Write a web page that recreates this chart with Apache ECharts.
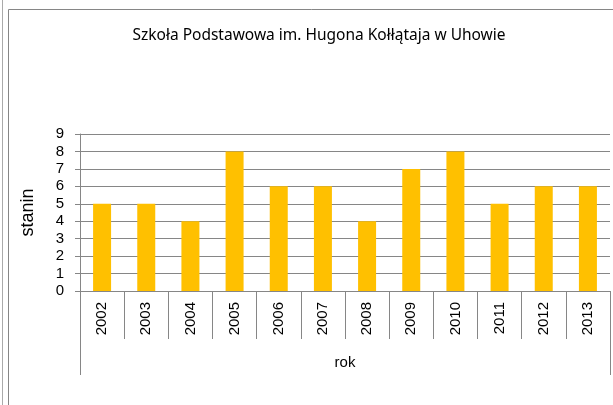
<!DOCTYPE html>
<html lang="pl">
<head>
    <meta charset="UTF-8">
    <title>Szkoła Podstawowa im. Hugona Kołłątaja w Uhowie</title>
    <script src="https://cdn.jsdelivr.net/npm/echarts@6/dist/echarts.min.js"></script>
    <style>
        html, body { margin: 0; padding: 0; background: #fff; }
        #chart { width: 613px; height: 405px; }
    </style>
</head>
<body>
    <div id="chart"></div>
    <script>
        // dane z wykresu
        const tytul = 'Szkoła Podstawowa im. Hugona Kołłątaja w Uhowie';
        const lata = ['2002', '2003', '2004', '2005', '2006', '2007', '2008', '2009', '2010', '2011', '2012', '2013'];
        const stanin = [5, 5, 4, 8, 6, 6, 4, 7, 8, 5, 6, 6];
        const grupa = ['rok'];
        const osY = { min: 0, max: 9, interval: 1 };

        const szary = '#868686';
        const myChart = echarts.init(document.getElementById('chart'));
        const option = {
            animation: false,
            title: {
                text: tytul,
                left: 314,
                textAlign: 'center',
                top: 23,
                textStyle: { fontFamily: 'Noto Sans', fontSize: 15.5, fontWeight: 'normal', color: '#000' }
            },
            graphic: [
                { type: 'line', shape: { x1: 2.5, y1: 0, x2: 2.5, y2: 405 }, style: { stroke: '#aaa', lineWidth: 1 }, z: -10 },
                { type: 'rect', shape: { x: 8.5, y: 9.5, width: 700, height: 500 }, style: { fill: 'none', stroke: szary, lineWidth: 1 }, z: -10 }
            ],
            grid: { left: 80, right: 3, top: 134, bottom: 114 },
            xAxis: [
                {
                    type: 'category',
                    data: lata,
                    position: 'bottom',
                    axisLine: { lineStyle: { color: szary } },
                    axisTick: { show: true, interval: 0, length: 48, lineStyle: { color: szary } },
                    axisLabel: { interval: 0, rotate: 90, margin: 11, fontFamily: 'Liberation Sans', fontSize: 15, color: '#000' }
                },
                {
                    type: 'category',
                    data: grupa,
                    position: 'bottom',
                    axisLine: { show: false },
                    axisTick: { show: true, interval: 0, length: 84, lineStyle: { color: szary } },
                    axisLabel: { margin: 64, fontFamily: 'Liberation Sans', fontSize: 15, color: '#000' },
                    splitLine: { show: false }
                }
            ],
            yAxis: {
                type: 'value',
                min: osY.min,
                max: osY.max,
                interval: osY.interval,
                name: 'stanin',
                nameLocation: 'middle',
                nameGap: 43,
                nameTextStyle: { fontFamily: 'Liberation Sans', fontSize: 18, color: '#000' },
                axisLine: { show: true, lineStyle: { color: szary } },
                axisTick: { show: true, length: 5, lineStyle: { color: szary } },
                axisLabel: { margin: 16, fontFamily: 'Liberation Sans', fontSize: 15, color: '#000' },
                splitLine: { lineStyle: { color: szary } }
            },
            series: [{
                type: 'bar',
                xAxisIndex: 0,
                data: stanin,
                barWidth: 18,
                itemStyle: { color: '#FFC000' }
            }]
        };
        myChart.setOption(option);
    </script>
</body>
</html>
